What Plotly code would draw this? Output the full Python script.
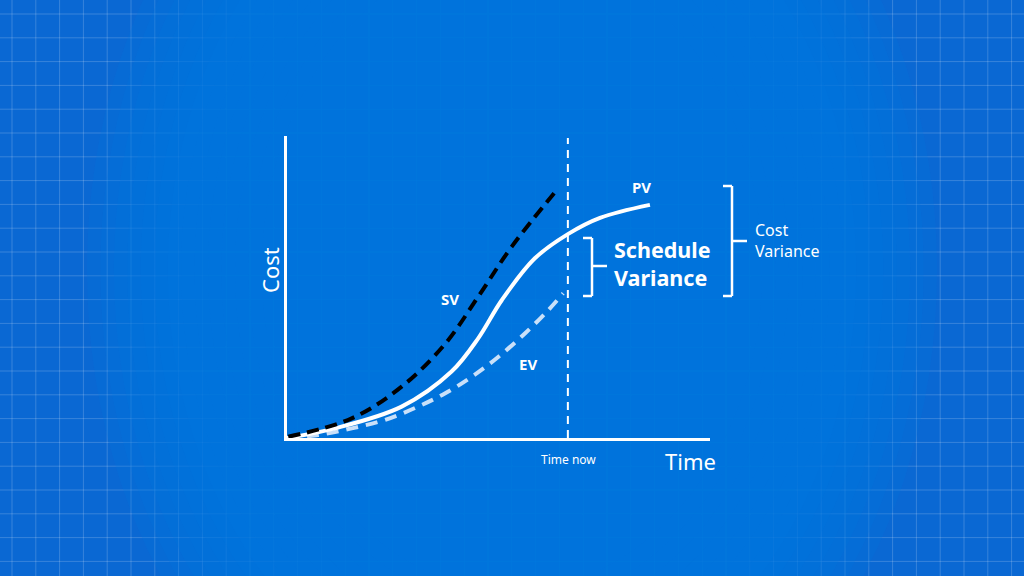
import plotly.graph_objects as go

# ---- data (time %, cost %) ----
pv_time = [0, 11.3, 27.1, 38.9, 45.2, 50.8, 58.6, 66.5, 74.0, 85.8]
pv_cost = [0, 3.2, 10.4, 22.0, 33.0, 45.7, 59.5, 67.6, 72.9, 77.2]

sv_time = [0.3, 15.3, 27.1, 37.4, 45.2, 53.1, 64.1]
sv_cost = [0.4, 6.5, 17.0, 31.2, 46.8, 63.3, 82.7]

ev_time = [0, 7.4, 15.3, 23.2, 31.0, 37.4, 43.7, 50.0, 56.3, 61.8, 65.3]
ev_cost = [0, 1.0, 3.2, 6.0, 10.4, 14.8, 20.3, 26.9, 34.7, 42.4, 47.9]

time_now = 66.4
time_now_top = 99.3

W, H = 1024, 576
L, R, T, B = 287, 314, 136, 138
PW, PH = W - L - R, H - T - B


def px(x):
    return (x - L) / PW


def py(y):
    return (H - B - y) / PH


FONT = "Noto Sans"
edge_bg = "#0a68d3"
center_bg = "#0075de"

fig = go.Figure()

fig.add_trace(go.Scatter(x=ev_time, y=ev_cost, mode="lines", line=dict(color="#c9e0f9", width=4, dash="12px,8px", shape="spline", smoothing=1.0), hoverinfo="skip"))
fig.add_trace(go.Scatter(x=pv_time, y=pv_cost, mode="lines", line=dict(color="white", width=4, shape="spline", smoothing=1.0), hoverinfo="skip"))
fig.add_trace(go.Scatter(x=sv_time, y=sv_cost, mode="lines", line=dict(color="black", width=4, dash="12px,7px", shape="spline", smoothing=1.0), hoverinfo="skip"))
fig.add_trace(go.Scatter(x=[time_now, time_now], y=[0, time_now_top], mode="lines", line=dict(color="white", width=2, dash="8px,6px"), hoverinfo="skip"))

shapes = []
# grid background
gx = 12.0
while gx < W:
    shapes.append(dict(type="line", xref="paper", yref="paper", x0=px(gx), x1=px(gx), y0=py(0), y1=py(H),
                       line=dict(color="rgba(255,255,255,0.19)", width=1), layer="below"))
    gx += 23.8
gy = 14.0
while gy < H:
    shapes.append(dict(type="line", xref="paper", yref="paper", x0=px(0), x1=px(W), y0=py(gy), y1=py(gy),
                       line=dict(color="rgba(255,255,255,0.19)", width=1), layer="below"))
    gy += 23.8
# central fade (vignette) via stacked ellipses
n = 14
cx, cy = 512, 270
for i in range(n):
    s = 1.7 - 0.7 * i / (n - 1)
    rx, ry = 250 * s, 320 * s
    shapes.append(dict(type="circle", xref="paper", yref="paper",
                       x0=px(cx - rx), x1=px(cx + rx), y0=py(cy + ry), y1=py(cy - ry),
                       fillcolor=center_bg, opacity=0.22, line=dict(width=0), layer="below"))


def bracket(xv, ytop, ybot, xtick, xmid, ymid):
    out = []
    for (x0, y0, x1, y1) in [(xv, ytop, xv, ybot), (xtick, ytop, xv, ytop), (xtick, ybot, xv, ybot), (xv, ymid, xmid, ymid)]:
        out.append(dict(type="line", xref="paper", yref="paper", x0=px(x0), y0=py(y0), x1=px(x1), y1=py(y1),
                        line=dict(color="white", width=2.5)))
    return out


shapes += bracket(592, 238, 296, 583, 607, 266)
shapes += bracket(732, 186, 296, 723, 747, 241)

annotations = [
    dict(text="Cost", x=px(270), y=py(270), textangle=-90, font=dict(size=22)),
    dict(text="Time", x=px(690), y=py(461), font=dict(size=22)),
    dict(text="Time now", x=px(568), y=py(459), font=dict(size=12)),
    dict(text="<b>SV</b>", x=px(450), y=py(299), font=dict(size=15)),
    dict(text="<b>EV</b>", x=px(528), y=py(364), font=dict(size=15)),
    dict(text="<b>PV</b>", x=px(641), y=py(187), font=dict(size=15)),
    dict(text="<b>Schedule</b>", x=px(612), y=py(249), xanchor="left", font=dict(size=21.5)),
    dict(text="<b>Variance</b>", x=px(612), y=py(277), xanchor="left", font=dict(size=21.5)),
    dict(text="Cost", x=px(753), y=py(230), xanchor="left", font=dict(size=16)),
    dict(text="Variance", x=px(753), y=py(251), xanchor="left", font=dict(size=16)),
]
for a in annotations:
    a.update(xref="paper", yref="paper", showarrow=False, yanchor="middle")
    a.setdefault("xanchor", "center")
    a["font"].update(color="white", family=FONT)

fig.update_layout(
    width=W, height=H,
    margin=dict(l=L, r=R, t=T, b=B, pad=0),
    paper_bgcolor=edge_bg,
    plot_bgcolor="rgba(0,0,0,0)",
    showlegend=False,
    shapes=shapes,
    annotations=annotations,
    xaxis=dict(range=[0, 100], showgrid=False, zeroline=False, showticklabels=False, ticks="",
               showline=True, linecolor="white", linewidth=3, fixedrange=True),
    yaxis=dict(range=[0, 100], showgrid=False, zeroline=False, showticklabels=False, ticks="",
               showline=True, linecolor="white", linewidth=3, fixedrange=True),
)

fig.write_html("out.html", config=dict(displayModeBar=False))
